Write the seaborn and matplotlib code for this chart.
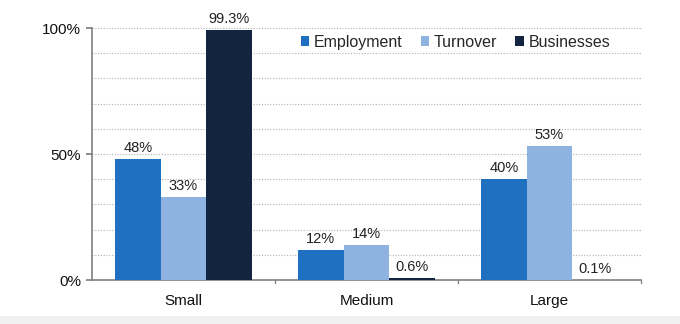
import matplotlib
matplotlib.use("Agg")
import matplotlib.pyplot as plt
import seaborn as sns
import pandas as pd
from matplotlib.patches import Rectangle

categories = ["Small", "Medium", "Large"]
series = ["Employment", "Turnover", "Businesses"]
employment = [48, 12, 40]
turnover = [33, 14, 53]
businesses = [99.3, 0.6, 0.1]
labels_employment = ["48%", "12%", "40%"]
labels_turnover = ["33%", "14%", "53%"]
labels_businesses = ["99.3%", "0.6%", "0.1%"]
ytick_vals = [0, 50, 100]
ytick_labels = ["0%", "50%", "100%"]

colors = ["#1f70c1", "#8fb3e0", "#12243f"]

rows = []
for s, vals in zip(series, [employment, turnover, businesses]):
    for c, v in zip(categories, vals):
        rows.append({"cat": c, "series": s, "value": v})
df = pd.DataFrame(rows)

sns.set_theme(style="white")
plt.rcParams['font.family'] = ['Liberation Sans', 'DejaVu Sans']
FS = 11

fig = plt.figure(figsize=(6.8, 3.24), dpi=100)
fig.patch.set_facecolor("white")
fig.patches.append(Rectangle((0, 0), 1, 8/324, transform=fig.transFigure,
                             facecolor="#f0f0f0", edgecolor="none", zorder=-1))
ax = fig.add_axes([92/680, 1-280/324, (641-92)/680, (280-28)/324])

sns.barplot(data=df, x="cat", y="value", hue="series", order=categories,
            hue_order=series, palette=colors, width=0.75, saturation=1,
            edgecolor="none", linewidth=0, ax=ax, zorder=3)

ax.set_ylim(0, 100)
ax.set_xlim(-0.5, 2.5)
ax.set_yticks(ytick_vals)
ax.set_yticklabels(ytick_labels, fontsize=FS, color="#111111")
ax.set_yticks(list(range(0, 101, 10)), minor=True)
ax.grid(axis="y", which="both", linestyle=(0, (1, 1.5)), color="#b0b0b0", linewidth=0.8, zorder=0)
ax.set_axisbelow(True)
ax.set_xticks([0, 1, 2])
ax.set_xticklabels(categories, fontsize=FS, color="#111111")
ax.tick_params(axis="x", length=0, pad=10)
ax.tick_params(axis="y", which="major", length=4, direction="out", color="#808080", pad=4, left=True)
ax.tick_params(axis="y", which="minor", length=0)
for x in [0.5, 1.5, 2.5]:
    ax.plot([x, x], [0, -1.2], color="#808080", lw=1, clip_on=False, zorder=4)
ax.set_xlabel("")
ax.set_ylabel("")
for sp in ["top", "right"]:
    ax.spines[sp].set_visible(False)
for sp in ["left", "bottom"]:
    ax.spines[sp].set_color("#808080")
    ax.spines[sp].set_linewidth(1.2)

for cont, labs in zip(ax.containers, [labels_employment, labels_turnover, labels_businesses]):
    ax.bar_label(cont, labels=labs, padding=3, fontsize=FS - 0.5, color="#222222", clip_on=False)

leg = ax.legend(loc="center left", bbox_to_anchor=(0.38, 0.944), ncol=3, frameon=False,
                fontsize=FS + 0.5, handlelength=0.55, handleheight=0.55, handletextpad=0.3,
                columnspacing=1.1, borderaxespad=0, borderpad=0)
fig.savefig("out.png", dpi=100)
